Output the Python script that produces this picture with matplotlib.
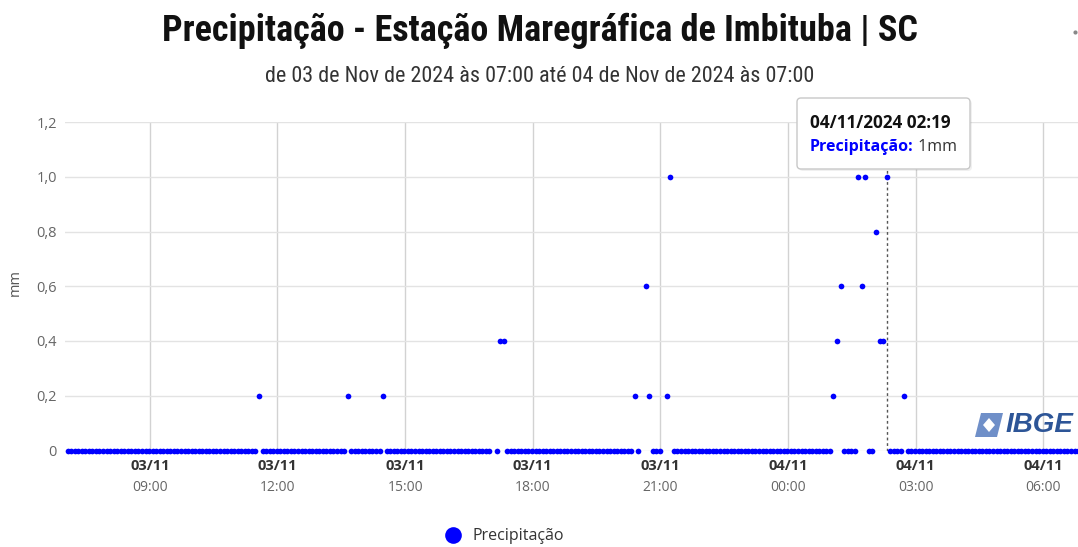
import matplotlib
matplotlib.use("Agg")
import matplotlib.pyplot as plt
import matplotlib.dates as mdates
import matplotlib.transforms as mtransforms
from matplotlib import font_manager as fm
from matplotlib.patches import FancyBboxPatch, Polygon
from matplotlib.lines import Line2D
from matplotlib.text import Annotation
import pandas as pd

# ---------------------------------------------------------
# data (5-min readings)
# ---------------------------------------------------------
start_time = "2024-11-03 07:04"
end_time = "2024-11-04 06:59"
step = "5min"

rain_times = ["2024-11-03 11:34", "2024-11-03 13:39", "2024-11-03 14:29",
              "2024-11-03 17:14", "2024-11-03 17:19", "2024-11-03 20:24",
              "2024-11-03 20:39", "2024-11-03 20:44", "2024-11-03 21:09",
              "2024-11-03 21:14", "2024-11-04 01:04", "2024-11-04 01:09",
              "2024-11-04 01:14", "2024-11-04 01:39", "2024-11-04 01:44",
              "2024-11-04 01:49", "2024-11-04 02:04", "2024-11-04 02:09",
              "2024-11-04 02:14", "2024-11-04 02:19", "2024-11-04 02:44"]
rain_mm = [0.2, 0.2, 0.2,
           0.4, 0.4, 0.2,
           0.6, 0.2, 0.2,
           1.0, 0.2, 0.4,
           0.6, 1.0, 0.6,
           1.0, 0.8, 0.4,
           0.4, 1.0, 0.2]
# readings missing from the record (holes in the zero line)
missing_times = ["2024-11-03 17:04", "2024-11-03 20:34", "2024-11-03 21:04"]

tick_times = ["2024-11-03 09:00", "2024-11-03 12:00", "2024-11-03 15:00",
              "2024-11-03 18:00", "2024-11-03 21:00", "2024-11-04 00:00",
              "2024-11-04 03:00", "2024-11-04 06:00"]
tick_dates = ["03/11", "03/11", "03/11", "03/11", "03/11", "04/11", "04/11", "04/11"]
tick_hours = ["09:00", "12:00", "15:00", "18:00", "21:00", "00:00", "03:00", "06:00"]
y_ticks = [0, 0.2, 0.4, 0.6, 0.8, 1.0, 1.2]
y_labels = ["0", "0,2", "0,4", "0,6", "0,8", "1,0", "1,2"]

hover_time = "2024-11-04 02:19"

title = "Precipitação - Estação Maregráfica de Imbituba | SC"
subtitle = "de 03 de Nov de 2024 às 07:00 até 04 de Nov de 2024 às 07:00"

# ---------------------------------------------------------
# build the series
# ---------------------------------------------------------
rain = pd.Series(rain_mm, index=pd.to_datetime(rain_times))
all_times = pd.date_range(start_time, end_time, freq=step)
skip = rain.index.union(pd.to_datetime(missing_times))
zeros = pd.Series(0.0, index=all_times.difference(skip))
series = pd.concat([zeros, rain]).sort_index()


# ---------------------------------------------------------
# look for a narrow sans face for the headings
# ---------------------------------------------------------
def narrow_font(bold):
    prefs = ["roboto", "open sans", "liberation sans", "noto sans", "dejavu sans"]
    found = []
    for f in fm.fontManager.ttflist:
        tag = (f.name + " " + str(f.stretch) + " " + f.fname).lower()
        if not ("condensed" in tag or "narrow" in tag):
            continue
        if "extra" in tag or "ultra" in tag or "semi" in tag or "mono" in tag \
                or "serif" in tag.replace("sans-serif", "") or "italic" in tag:
            continue
        w = f.weight if isinstance(f.weight, int) else \
            (700 if "bold" in str(f.weight) else 400)
        if bold and w < 600 or (not bold and w >= 600):
            continue
        rank = len(prefs)
        for i, p in enumerate(prefs):
            if f.name.lower().startswith(p):
                rank = i
                break
        found.append((rank, f.fname))
    if found:
        found.sort()
        return fm.FontProperties(fname=found[0][1])
    return fm.FontProperties(family="DejaVu Sans", weight="bold" if bold else "normal")


W, H = 1078, 547
BLUE = "#0000ff"
SANS = ["Open Sans", "DejaVu Sans"]
fig = plt.figure(figsize=(W / 100, H / 100), dpi=100)
renderer = fig.canvas.get_renderer()


def fx(px):
    return px / W


def fy(py):
    return 1 - py / H


def fitted_text(px, py, s, fp, width_px, **kw):
    t = fig.text(fx(px), fy(py), s, fontproperties=fp, ha="center", va="center", **kw)
    t.set_fontsize(20)
    w = t.get_window_extent(renderer).width
    t.set_fontsize(20 * width_px / w)
    return t


x_left, y_bottom, y_top = 64.7, 450.5, 122
ax = fig.add_axes([fx(x_left), fy(y_bottom), 1 - fx(x_left), (y_bottom - y_top) / H])

t0 = pd.Timestamp("2024-11-03 07:00")
px_per_hour = 42.55
t1 = t0 + pd.Timedelta(hours=(W - x_left) / px_per_hour)
ax.set_xlim(mdates.date2num(t0), mdates.date2num(t1))
ax.set_ylim(0, 1.2)

ax.plot(series.index, series.values, "o", color=BLUE, ms=4.1, mec="none",
        clip_on=False, zorder=3)

for s in ax.spines.values():
    s.set_visible(False)

ticks = pd.to_datetime(tick_times)
ax.set_xticks(mdates.date2num(ticks))
ax.set_xticklabels([])
ax.set_yticks(y_ticks)
ax.set_yticklabels(y_labels)
ax.tick_params(axis="x", length=0)
ax.tick_params(axis="y", length=0, pad=5.5, labelsize=10.5, labelcolor="#666666")
for lab in ax.get_yticklabels():
    lab.set_family(SANS)
ax.grid(axis="x", color="#d2d2d2", lw=1)
ax.grid(axis="y", color="#e3e3e3", lw=1)
ax.set_axisbelow(True)

for t, d, h in zip(ticks, tick_dates, tick_hours):
    ax.annotate(d, xy=(mdates.date2num(t), 0), xycoords=("data", "axes fraction"),
                xytext=(0, -11.5), textcoords="offset points", ha="center", va="center",
                fontsize=10.5, weight="bold", color="#333333", family=SANS)
    ax.annotate(h, xy=(mdates.date2num(t), 0), xycoords=("data", "axes fraction"),
                xytext=(0, -26.5), textcoords="offset points", ha="center", va="center",
                fontsize=10, color="#666666", family=SANS)

fig.text(fx(15), fy(283), "mm", rotation=90, ha="center", va="center",
         fontsize=10.5, color="#555555", family=SANS)

# crosshair at the hovered point
hx = mdates.date2num(pd.Timestamp(hover_time))
ax.axvline(hx, color="#555555", lw=1, ls=(0, (2, 2)), zorder=2)

# titles
fitted_text(540, 31, title, narrow_font(True), 753, color="#111111")
fitted_text(540, 77, subtitle, narrow_font(False), 550, color="#333333")

# legend
fig.add_artist(Line2D([fx(453)], [fy(535)], marker="o", ms=12, color=BLUE, mec="none",
                      transform=fig.transFigure))
fig.text(fx(473), fy(536), "Precipitação", ha="left", va="center", fontsize=11.5,
         color="#333333", family=SANS)

# tooltip
ident = mtransforms.IdentityTransform()
shadow = FancyBboxPatch((799, H - 171), 173, 71, boxstyle="round,pad=0,rounding_size=4",
                        fc="#000000", ec="none", alpha=0.06, transform=ident, zorder=9)
fig.add_artist(shadow)
box = FancyBboxPatch((797, H - 169), 173, 71, boxstyle="round,pad=0,rounding_size=4",
                     fc="white", ec="#c8c8c8", lw=1, transform=ident, zorder=10)
fig.add_artist(box)
hv = pd.Timestamp(hover_time)
fig.text(fx(810), fy(123), hv.strftime("%d/%m/%Y %H:%M"), ha="left", va="center",
         fontsize=12.3, weight="bold", color="#111111", family=SANS, zorder=11)
lab = fig.text(fx(810), fy(147), "Precipitação:", ha="left", va="center", fontsize=11.5,
               weight="bold", color=BLUE, family=SANS, zorder=11)
val = Annotation(" %gmm" % rain[hv], xy=(1, 0.5), xycoords=lab, ha="left", va="center",
                 fontsize=11.5, color="#333333", family=SANS, zorder=11)
fig.add_artist(val)

# IBGE logo
fig.add_artist(Polygon([(fx(975), fy(437)), (fx(997), fy(437)), (fx(1003), fy(413)),
                        (fx(981), fy(413))], closed=True, fc="#6f8fc8", ec="none",
                       transform=fig.transFigure))
fig.add_artist(Polygon([(fx(989), fy(418)), (fx(995), fy(425)), (fx(989), fy(432)),
                        (fx(983), fy(425))], closed=True, fc="white", ec="none",
                       transform=fig.transFigure))
fig.text(fx(1073), fy(425), "IBGE", ha="right", va="center", fontsize=20, weight="bold",
         style="italic", color="#2d5597", family=["Liberation Sans", "DejaVu Sans"])

# menu dot, top right
fig.add_artist(Line2D([fx(1075)], [fy(32)], marker="o", ms=3, color="#888888", mec="none",
                      transform=fig.transFigure))

fig.savefig("out.png", dpi=100)
